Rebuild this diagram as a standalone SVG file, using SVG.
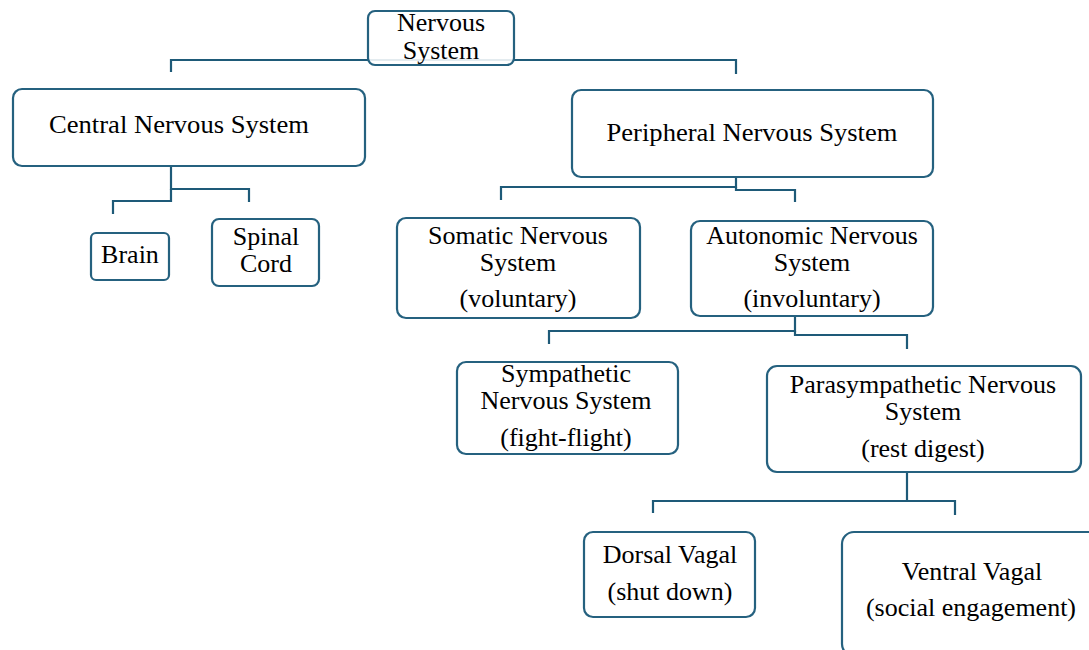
<svg xmlns="http://www.w3.org/2000/svg" width="1089" height="650" viewBox="0 0 1089 650">
<style>
.box{fill:#ffffff;fill-opacity:0.88;stroke:#25617f;stroke-width:2.2}
.c{fill:none;stroke:#1e5a78;stroke-width:2.2}
text{font-family:"Liberation Serif","Times New Roman",serif;font-size:26px;fill:#000;text-anchor:middle}
</style>
<rect width="1089" height="650" fill="#ffffff"/>
<g id="connectors">
<path class="c" d="M171,72 V60 H736 V74"/>
<path class="c" d="M171,166 V189 H249 V202"/>
<path class="c" d="M171,189 V201 H113 V214"/>
<path class="c" d="M736,177 V187 H501 V200"/>
<path class="c" d="M736,187 V190 H795 V202"/>
<path class="c" d="M795,316 V331 H549 V344"/>
<path class="c" d="M795,331 V335 H907 V349"/>
<path class="c" d="M907,472 V501 H653 V513"/>
<path class="c" d="M907,501 H955 V515"/>
</g>
<g id="nervous-system">
<rect class="box" x="368" y="11" width="146" height="54" rx="7"/>
<text x="441" y="31">Nervous</text>
<text x="441" y="59">System</text>
</g>
<g id="cns">
<rect class="box" x="13" y="89" width="352" height="77" rx="9"/>
<text x="179" y="133" textLength="260" lengthAdjust="spacingAndGlyphs">Central Nervous System</text>
</g>
<g id="pns">
<rect class="box" x="572" y="90" width="361" height="87" rx="9"/>
<text x="752" y="141" textLength="291" lengthAdjust="spacingAndGlyphs">Peripheral Nervous System</text>
</g>
<g id="brain">
<rect class="box" x="91" y="233" width="78" height="47" rx="5"/>
<text x="130" y="263">Brain</text>
</g>
<g id="spinal-cord">
<rect class="box" x="212" y="219" width="107" height="67" rx="7"/>
<text x="266" y="245">Spinal</text>
<text x="266" y="272">Cord</text>
</g>
<g id="somatic">
<rect class="box" x="397" y="218" width="243" height="100" rx="9"/>
<text x="518" y="244">Somatic Nervous</text>
<text x="518" y="271">System</text>
<text x="518" y="307">(voluntary)</text>
</g>
<g id="autonomic">
<rect class="box" x="691" y="221" width="242" height="95" rx="9"/>
<text x="812" y="244">Autonomic Nervous</text>
<text x="812" y="271">System</text>
<text x="812" y="307">(involuntary)</text>
</g>
<g id="sympathetic">
<rect class="box" x="457" y="362" width="221" height="92" rx="9"/>
<text x="566" y="382">Sympathetic</text>
<text x="566" y="409">Nervous System</text>
<text x="566" y="446">(fight-flight)</text>
</g>
<g id="parasympathetic">
<rect class="box" x="767" y="366" width="314" height="106" rx="10"/>
<text x="923" y="393">Parasympathetic Nervous</text>
<text x="923" y="420">System</text>
<text x="923" y="457">(rest digest)</text>
</g>
<g id="dorsal-vagal">
<rect class="box" x="584" y="532" width="171" height="85" rx="9"/>
<text x="670" y="563">Dorsal Vagal</text>
<text x="670" y="600">(shut down)</text>
</g>
<g id="ventral-vagal">
<rect class="box" x="842" y="532" width="262" height="124" rx="12"/>
<text x="972" y="580">Ventral Vagal</text>
<text x="971" y="616">(social engagement)</text>
</g>
</svg>
